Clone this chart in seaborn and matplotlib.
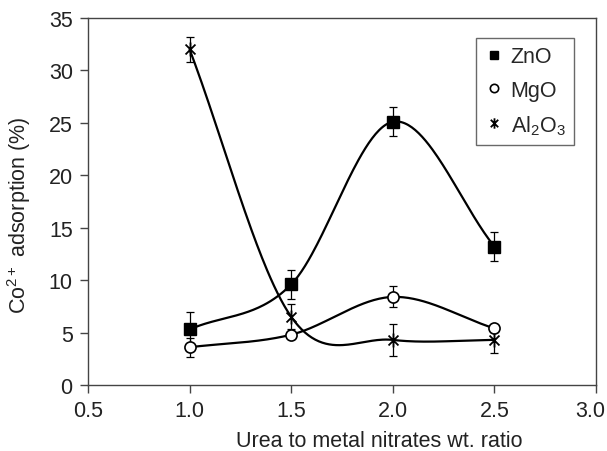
import numpy as np
import pandas as pd
import seaborn as sns
import matplotlib.pyplot as plt
from matplotlib.path import Path
from matplotlib.transforms import ScaledTranslation

# Data
ratio = [1.0, 1.5, 2.0, 2.5]
zno = [5.3, 9.6, 25.1, 13.2]
zno_err = [1.7, 1.4, 1.4, 1.4]
mgo = [3.6, 4.8, 8.4, 5.4]
mgo_err = [0.9, 0.2, 1.0, 0.3]
al2o3 = [32.0, 6.5, 4.3, 4.3]
al2o3_err = [1.2, 1.2, 1.5, 1.2]
labels = ["ZnO", "MgO", "Al$_2$O$_3$"]


def smooth(x, y, n=60):
    # Catmull-Rom style smoothing (like a spreadsheet "smoothed line")
    x = np.asarray(x, float)
    y = np.asarray(y, float)
    xs, ys = [], []
    for i in range(len(x) - 1):
        m0 = (y[i + 1] - y[i - 1]) / 2 if i > 0 else (y[i + 1] - y[i])
        m1 = (y[i + 2] - y[i]) / 2 if i + 2 < len(x) else (y[i + 1] - y[i])
        t = np.linspace(0, 1, n)
        h00 = 2 * t**3 - 3 * t**2 + 1
        h10 = t**3 - 2 * t**2 + t
        h01 = -2 * t**3 + 3 * t**2
        h11 = t**3 - t**2
        xs.append(x[i] + t * (x[i + 1] - x[i]))
        ys.append(h00 * y[i] + h10 * m0 + h01 * y[i + 1] + h11 * m1)
    return np.concatenate(xs), np.concatenate(ys)


sns.set_theme(style="ticks")
plt.rcParams["font.family"] = ["Liberation Sans", "DejaVu Sans"]
plt.rcParams["mathtext.default"] = "regular"

fs = 15.5
fig = plt.figure(figsize=(6.07, 4.52), dpi=100)
ax = fig.add_axes([0.145, 0.146, 0.837, 0.812])

star = Path([(-1, -1), (1, 1), (-1, 1), (1, -1), (0, -1.4), (0, 1.4)],
            [Path.MOVETO, Path.LINETO, Path.MOVETO, Path.LINETO,
             Path.MOVETO, Path.LINETO])

series = [
    (zno, zno_err, dict(marker="s", mfc="black", mec="black", ms=8)),
    (mgo, mgo_err, dict(marker="o", mfc="white", mec="black", ms=8, mew=1.2)),
    (al2o3, al2o3_err, dict(marker=star, mfc="none", mec="black", ms=10, mew=1.3)),
]

frames = []
for (vals, err, style), lab in zip(series, labels):
    sx, sy = smooth(ratio, vals)
    frames.append(pd.DataFrame({"x": sx, "y": sy, "s": lab}))
curves = pd.concat(frames)

sns.lineplot(data=curves, x="x", y="y", units="s", estimator=None,
             color="black", lw=1.6, ax=ax, legend=False, sort=False)

handles = []
for (vals, err, style), lab in zip(series, labels):
    ax.errorbar(ratio, vals, yerr=err, fmt="none", ecolor="black",
                elinewidth=0.9, capsize=3, capthick=0.9, zorder=3)
    h, = ax.plot(ratio, vals, ls="none", zorder=4, label=lab, **style)
    handles.append(h)

ax.set_xlim(0.5, 3.0)
ax.set_ylim(0, 35)
ax.set_xticks([0.5, 1.0, 1.5, 2.0, 2.5, 3.0])
ax.set_xticklabels(["0.5", "1.0", "1.5", "2.0", "2.5", "3.0"])
ax.set_yticks(range(0, 36, 5))
ax.tick_params(axis="both", direction="out", length=6, width=1,
               color="#444444", labelsize=fs, labelcolor="#222222", pad=5)
for sp in ax.spines.values():
    sp.set_color("#444444")
    sp.set_linewidth(1)
    sp.set_visible(True)

# last x tick label sits right at the figure edge; nudge it inside
last = ax.get_xticklabels()[-1]
last.set_transform(last.get_transform() + ScaledTranslation(-0.055, 0, fig.dpi_scale_trans))

ax.set_xlabel("Urea to metal nitrates wt. ratio", fontsize=fs, color="#222222")
ax.set_ylabel("Co$^{2+}$ adsorption (%)", fontsize=fs, color="#222222")
ax.xaxis.set_label_coords(0.573, -0.122)
ax.yaxis.set_label_coords(-0.108, 0.466)

leg = ax.legend(handles=handles, loc="upper right", bbox_to_anchor=(0.957, 0.946),
                frameon=True, fancybox=False, edgecolor="#444444", fontsize=fs,
                markerscale=0.75, handlelength=0.8, handletextpad=0.4,
                borderpad=0.4, labelspacing=0.57, borderaxespad=0)
leg.get_frame().set_linewidth(1)

fig.savefig("out.png", dpi=100)
